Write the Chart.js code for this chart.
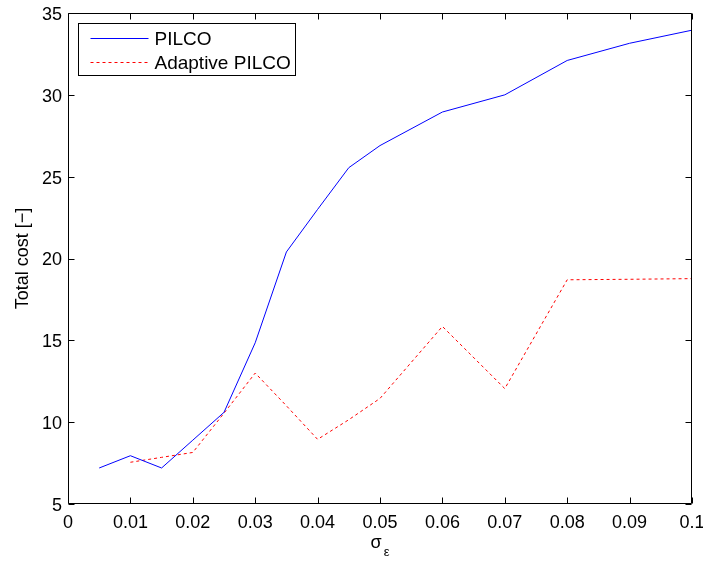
<!DOCTYPE html>
<html>
<head>
<meta charset="utf-8">
<title>Total cost vs noise level</title>
<script src="https://cdn.jsdelivr.net/npm/chart.js@4.4.1/dist/chart.umd.min.js"></script>
<style>
  html, body { margin: 0; padding: 0; background: #ffffff; }
  canvas { display: block; }
</style>
</head>
<body>
<canvas id="chart" width="703" height="563"></canvas>
<script>
// Noise standard deviation (sigma_epsilon) at which each controller was evaluated
const SIGMA = [0.005, 0.01, 0.015, 0.02, 0.025, 0.03, 0.035, 0.04, 0.045, 0.05, 0.06, 0.07, 0.08, 0.09, 0.1];

// Total cost of standard PILCO
const PILCO_COST = [7.2, 7.95, 7.2, 8.9, 10.6, 14.85, 20.4, 23.0, 25.55, 26.9, 28.95, 30.0, 32.1, 33.15, 33.95];

// Total cost of adaptive PILCO (no run at the smallest noise level)
const ADAPTIVE_COST = [null, 7.55, 7.85, 8.15, 10.55, 13.0, 11.0, 8.95, 10.15, 11.45, 15.85, 12.05, 18.7, 18.73, 18.77];

// Axis tick values and labels
const X_TICKS = [0, 0.01, 0.02, 0.03, 0.04, 0.05, 0.06, 0.07, 0.08, 0.09, 0.1];
const X_TICK_LABELS = ['0', '0.01', '0.02', '0.03', '0.04', '0.05', '0.06', '0.07', '0.08', '0.09', '0.1'];
const Y_TICKS = [5, 10, 15, 20, 25, 30, 35];
const Y_TICK_LABELS = ['5', '10', '15', '20', '25', '30', '35'];

const SERIES_NAMES = ['PILCO', 'Adaptive PILCO'];

const FONT = '"Liberation Sans", Arial, Helvetica, sans-serif';
Chart.defaults.font.family = FONT;
Chart.defaults.color = '#000000';

function toPoints(xs, ys) {
  const pts = [];
  xs.forEach((x, i) => { if (ys[i] !== null) pts.push({ x: x, y: ys[i] }); });
  return pts;
}

// Box frame, inward tick marks on all four sides, in-plot legend and axis titles
const framePlugin = {
  id: 'matlabFrame',
  afterDraw(chart) {
    const { ctx, chartArea: a, scales } = chart;
    const L = Math.round(a.left) + 0.5, R = Math.round(a.right) - 0.5;
    const T = Math.round(a.top) + 0.5, B = Math.round(a.bottom) - 0.5;
    const tick = 6;
    ctx.save();
    ctx.strokeStyle = '#000000';
    ctx.lineWidth = 1;
    ctx.setLineDash([]);
    ctx.beginPath();
    ctx.rect(L, T, R - L, B - T);
    X_TICKS.forEach(v => {
      const px = Math.round(scales.x.getPixelForValue(v)) + 0.5;
      ctx.moveTo(px, B); ctx.lineTo(px, B - tick);
      ctx.moveTo(px, T); ctx.lineTo(px, T + tick);
    });
    Y_TICKS.forEach(v => {
      const py = Math.round(scales.y.getPixelForValue(v)) + 0.5;
      ctx.moveTo(L, py); ctx.lineTo(L + tick, py);
      ctx.moveTo(R, py); ctx.lineTo(R - tick, py);
    });
    ctx.stroke();

    // Legend box in the upper-left corner of the plot
    const lx = L + 10, ly = T + 10, lw = 217, lh = 52;
    ctx.fillStyle = '#ffffff';
    ctx.fillRect(lx, ly, lw, lh);
    ctx.strokeRect(lx, ly, lw, lh);
    ctx.font = '19px ' + FONT;
    ctx.textBaseline = 'middle';
    ctx.textAlign = 'left';
    chart.data.datasets.forEach((ds, i) => {
      const yy = Math.round(ly + 14 + i * 24) + 0.5;
      ctx.strokeStyle = ds.borderColor;
      ctx.lineWidth = ds.borderWidth;
      ctx.setLineDash(ds.borderDash || []);
      ctx.beginPath();
      ctx.moveTo(lx + 12, yy);
      ctx.lineTo(lx + 70, yy);
      ctx.stroke();
      ctx.setLineDash([]);
      ctx.fillStyle = '#000000';
      ctx.fillText(ds.label, lx + 76, yy + 1);
    });

    // x-axis title: sigma with subscript epsilon
    ctx.fillStyle = '#000000';
    ctx.textBaseline = 'alphabetic';
    ctx.font = '18px ' + FONT;
    const cx = (a.left + a.right) / 2;
    const sw = ctx.measureText('σ').width;
    ctx.font = '13px ' + FONT;
    const ew = ctx.measureText('ε').width;
    const startX = cx - (sw + ew + 2) / 2;
    ctx.font = '18px ' + FONT;
    ctx.fillText('σ', startX, 548);
    ctx.font = '13px ' + FONT;
    ctx.fillText('ε', startX + sw + 2, 556);

    // y-axis title, rotated
    ctx.save();
    ctx.translate(28, (a.top + a.bottom) / 2);
    ctx.rotate(-Math.PI / 2);
    ctx.font = '18px ' + FONT;
    ctx.textAlign = 'center';
    ctx.fillText('Total cost [\u2212]', 0, 0);
    ctx.restore();

    ctx.restore();
  }
};

new Chart(document.getElementById('chart'), {
  type: 'line',
  data: {
    datasets: [
      {
        label: SERIES_NAMES[0],
        data: toPoints(SIGMA, PILCO_COST),
        borderColor: '#0000ff',
        borderWidth: 1,
        pointRadius: 0,
        tension: 0,
        fill: false
      },
      {
        label: SERIES_NAMES[1],
        data: toPoints(SIGMA, ADAPTIVE_COST),
        borderColor: '#ff0000',
        borderWidth: 1,
        borderDash: [3, 3],
        pointRadius: 0,
        tension: 0,
        fill: false
      }
    ]
  },
  options: {
    responsive: false,
    animation: false,
    events: [],
    layout: { padding: { top: 13, right: 11, bottom: 0, left: 0 } },
    plugins: {
      legend: { display: false },
      tooltip: { enabled: false },
      title: { display: false }
    },
    scales: {
      x: {
        type: 'linear',
        min: 0,
        max: 0.1,
        grid: { display: false, drawTicks: false, tickLength: 0 },
        border: { display: false },
        afterBuildTicks(scale) { scale.ticks = X_TICKS.map(v => ({ value: v })); },
        afterFit(scale) { scale.height = 59; scale.paddingLeft = 0; scale.paddingRight = 0; },
        ticks: {
          padding: 8,
          maxRotation: 0,
          autoSkip: false,
          font: { size: 18 },
          color: '#000000',
          callback: (v, i) => X_TICK_LABELS[i]
        }
      },
      y: {
        type: 'linear',
        min: 5,
        max: 35,
        grid: { display: false, drawTicks: false, tickLength: 0 },
        border: { display: false },
        afterBuildTicks(scale) { scale.ticks = Y_TICKS.map(v => ({ value: v })); },
        afterFit(scale) { scale.width = 68; scale.paddingTop = 0; scale.paddingBottom = 0; },
        ticks: {
          padding: 6,
          autoSkip: false,
          labelOffset: 2,
          font: { size: 18 },
          color: '#000000',
          callback: (v, i) => Y_TICK_LABELS[i]
        }
      }
    }
  },
  plugins: [framePlugin]
});
</script>
</body>
</html>
